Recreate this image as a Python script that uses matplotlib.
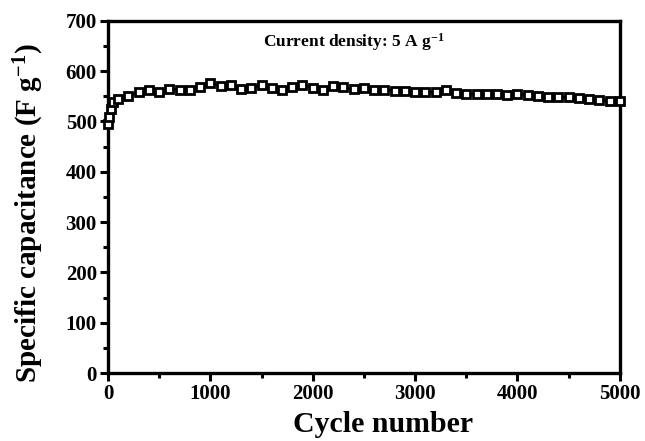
import matplotlib
matplotlib.use("Agg")
import matplotlib.pyplot as plt
from matplotlib.ticker import MultipleLocator

# --- datos ---------------------------------------------------------------
cycles = [1, 10, 30, 50,
          100, 200, 300, 400, 500, 600, 700, 800, 900, 1000,
          1100, 1200, 1300, 1400, 1500, 1600, 1700, 1800, 1900, 2000,
          2100, 2200, 2300, 2400, 2500, 2600, 2700, 2800, 2900, 3000,
          3100, 3200, 3300, 3400, 3500, 3600, 3700, 3800, 3900, 4000,
          4100, 4200, 4300, 4400, 4500, 4600, 4700, 4800, 4900, 5000]
capacitance = [495, 509, 525, 538,
               545, 550, 558, 563, 558, 565, 563, 563, 568, 576,
               570, 573, 565, 566, 573, 566, 563, 568, 573, 566,
               563, 570, 568, 564, 566, 563, 563, 560, 560, 558,
               558, 558, 563, 557, 554, 555, 554, 554, 552, 555,
               552, 550, 548, 548, 548, 546, 544, 543, 540, 540]
x_ticks = [0, 1000, 2000, 3000, 4000, 5000]
y_ticks = [0, 100, 200, 300, 400, 500, 600, 700]

plt.rcParams["font.family"] = "Liberation Serif"
plt.rcParams["font.weight"] = "bold"
plt.rcParams["mathtext.fontset"] = "custom"
plt.rcParams["mathtext.rm"] = "Liberation Serif:bold"
plt.rcParams["mathtext.it"] = "Liberation Serif:bold"
plt.rcParams["mathtext.bf"] = "Liberation Serif:bold"
plt.rcParams["mathtext.default"] = "regular"

fig = plt.figure(figsize=(6.45, 4.41), dpi=100)
ax = fig.add_axes([0.1674, 0.154, 0.7936, 0.799])

ax.plot(cycles, capacitance, color="black", lw=1.8, marker="s", ms=6,
        mfc="white", mec="black", mew=2.0, clip_on=False, zorder=3)

ax.set_xlim(0, 5000)
ax.set_ylim(0, 700)
ax.set_xticks(x_ticks)
ax.set_yticks(y_ticks)
ax.xaxis.set_minor_locator(MultipleLocator(500))
ax.yaxis.set_minor_locator(MultipleLocator(50))
ax.tick_params(which="major", direction="out", length=6, width=2.2, labelsize=15, pad=2)
ax.tick_params(which="minor", direction="out", length=3.5, width=2.2)
for sp in ax.spines.values():
    sp.set_linewidth(2.4)
for lbl in ax.get_xticklabels() + ax.get_yticklabels():
    lbl.set_fontweight("bold")

ax.set_xlabel("Cycle number", fontsize=21.5, fontweight="bold")
ax.xaxis.set_label_coords(0.537, -0.108)
ax.set_ylabel("Specific capacitance (F g$^{-1}$)", fontsize=21, fontweight="bold")
ax.yaxis.set_label_coords(-0.121, 0.455)
ax.text(0.48, 0.94, "Current density: 5 A g$^{-1}$", transform=ax.transAxes,
        ha="center", va="center", fontsize=12.5, fontweight="bold")

fig.savefig("out.png", dpi=100)
